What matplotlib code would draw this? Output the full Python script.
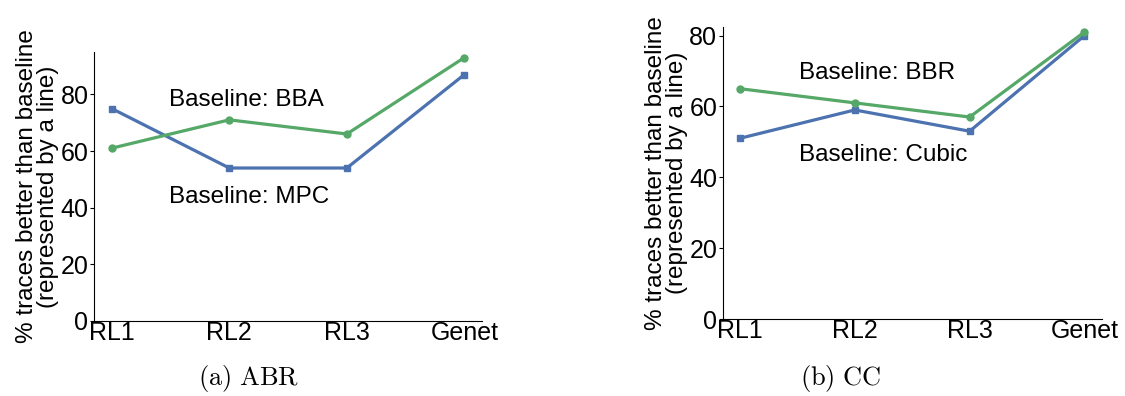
import matplotlib
matplotlib.use("Agg")
import matplotlib.pyplot as plt

plt.rcParams['font.family'] = ['Liberation Sans', 'DejaVu Sans']
plt.rcParams['mathtext.fontset'] = 'cm'

# 数据
methods = ['RL1', 'RL2', 'RL3', 'Genet']
abr_mpc = [75, 54, 54, 87]
abr_bba = [61, 71, 66, 93]
cc_cubic = [51, 59, 53, 80]
cc_bbr = [65, 61, 57, 81]

blue = '#4c72b0'
green = '#55a868'
ylabel = '% traces better than baseline\n(represented by a line)'

fig = plt.figure(figsize=(11.25, 3.96), dpi=100)
ax1 = fig.add_axes([0.0836, 0.1894, 0.3449, 0.6793])
ax2 = fig.add_axes([0.6424, 0.1944, 0.3369, 0.7382])


def draw(ax, blue_vals, green_vals, top_text, bottom_text, top_pos, bottom_pos):
    x = list(range(len(methods)))
    ax.plot(x, blue_vals, color=blue, marker='s', markersize=5, linewidth=2.3)
    ax.plot(x, green_vals, color=green, marker='o', markersize=5, linewidth=2.3)
    ax.set_ylim(bottom=0)
    ax.set_xticks(x)
    ax.set_xticklabels(methods)
    ax.set_yticks([0, 20, 40, 60, 80])
    ax.tick_params(axis='x', length=0, pad=0, labelsize=18)
    ax.tick_params(axis='y', length=3, pad=1, labelsize=18)
    ax.spines['top'].set_visible(False)
    ax.spines['right'].set_visible(False)
    ax.set_ylabel(ylabel, fontsize=17.5, labelpad=1, linespacing=0.95)
    ax.text(top_pos[0], top_pos[1], top_text, fontsize=17.5, va='center')
    ax.text(bottom_pos[0], bottom_pos[1], bottom_text, fontsize=17.5, va='center')


draw(ax1, abr_mpc, abr_bba, 'Baseline: BBA', 'Baseline: MPC', (0.49, 77.9), (0.49, 43.7))
draw(ax2, cc_cubic, cc_bbr, 'Baseline: BBR', 'Baseline: Cubic', (0.51, 69.5), (0.51, 46.4))

fig.text(0.221, 0.045, r'$\mathrm{(a)\ ABR}$', fontsize=19, ha='center', va='center')
fig.text(0.747, 0.045, r'$\mathrm{(b)\ CC}$', fontsize=19, ha='center', va='center')

fig.savefig('out.png', dpi=100)
